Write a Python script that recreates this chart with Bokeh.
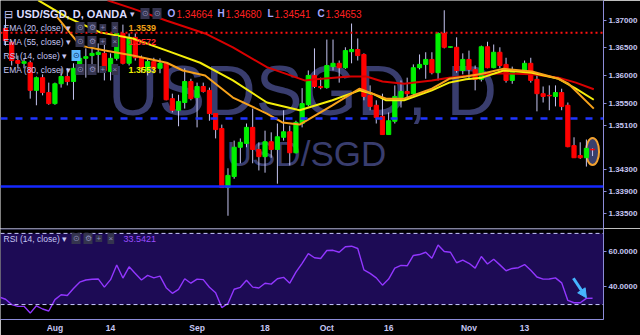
from bokeh.plotting import figure
from bokeh.models import (Range1d, FixedTicker, Label, Span, Arrow, NormalHead,
                          ColumnDataSource, BoxAnnotation, PrintfTickFormatter)
from bokeh.layouts import column
from bokeh.embed import file_html
from bokeh.resources import INLINE

# ---------------- data ----------------
days = list(range(0, 83)) + list(range(84, 96))

opens = [1.3685, 1.3660, 1.3627, 1.3622, 1.3623, 1.3573, 1.3596, 1.3569, 1.3549, 1.3585,
         1.3598, 1.3589, 1.3609, 1.3631, 1.3636, 1.3638, 1.3640, 1.3607, 1.3631, 1.3676,
         1.3622, 1.3669, 1.3632, 1.3609, 1.3625, 1.3613, 1.3622, 1.3558, 1.3537, 1.3551,
         1.3589, 1.3560, 1.3580, 1.3573, 1.3531, 1.3504, 1.3397, 1.3417, 1.3470, 1.3477,
         1.3506, 1.3466, 1.3453, 1.3480, 1.3466, 1.3488, 1.3498, 1.3460, 1.3513, 1.3547,
         1.3600, 1.3580, 1.3578, 1.3616, 1.3622, 1.3614, 1.3643, 1.3647, 1.3638, 1.3564,
         1.3546, 1.3526, 1.3493, 1.3517, 1.3560, 1.3571, 1.3567, 1.3614, 1.3620, 1.3629,
         1.3605, 1.3676, 1.3651, 1.3651, 1.3609, 1.3629, 1.3611, 1.3593, 1.3652, 1.3614,
         1.3642, 1.3620, 1.3591, 1.3609, 1.3622, 1.3593, 1.3567, 1.3564, 1.3562,
         1.3569, 1.3546, 1.3473, 1.3455, 1.3451, 1.34664]
highs = [1.3703, 1.3663, 1.3636, 1.3631, 1.3627, 1.3598, 1.3602, 1.3587, 1.3587, 1.3613,
         1.3613, 1.3622, 1.3636, 1.3649, 1.3649, 1.3658, 1.3658, 1.3640, 1.3690, 1.3692,
         1.3676, 1.3676, 1.3636, 1.3631, 1.3632, 1.3631, 1.3623, 1.3567, 1.3565, 1.3613,
         1.3594, 1.3587, 1.3587, 1.3578, 1.3531, 1.3511, 1.3432, 1.3482, 1.3486, 1.3513,
         1.3540, 1.3479, 1.3500, 1.3497, 1.3513, 1.3537, 1.3509, 1.3518, 1.3577, 1.3609,
         1.3649, 1.3596, 1.3665, 1.3665, 1.3627, 1.3651, 1.3694, 1.3667, 1.3640, 1.3582,
         1.3555, 1.3567, 1.3533, 1.3582, 1.3591, 1.3596, 1.3620, 1.3638, 1.3642, 1.3642,
         1.3678, 1.3718, 1.3652, 1.3669, 1.3640, 1.3645, 1.3618, 1.3654, 1.3661, 1.3656,
         1.3651, 1.3632, 1.3616, 1.3627, 1.3632, 1.3602, 1.3580, 1.3582, 1.3582,
         1.3576, 1.3551, 1.3488, 1.3479, 1.3484, 1.34680]
lows = [1.3654, 1.3618, 1.3613, 1.3613, 1.3558, 1.3546, 1.3564, 1.3547, 1.3547, 1.3578,
        1.3582, 1.3556, 1.3605, 1.3596, 1.3605, 1.3605, 1.3591, 1.3591, 1.3627, 1.3620,
        1.3618, 1.3627, 1.3605, 1.3600, 1.3604, 1.3604, 1.3555, 1.3533, 1.3508, 1.3540,
        1.3555, 1.3506, 1.3569, 1.3518, 1.3486, 1.3397, 1.3346, 1.3413, 1.3441, 1.3470,
        1.3441, 1.3428, 1.3424, 1.3451, 1.3404, 1.3482, 1.3437, 1.3459, 1.3506, 1.3544,
        1.3577, 1.3575, 1.3576, 1.3609, 1.3587, 1.3612, 1.3622, 1.3627, 1.3555, 1.3537,
        1.3513, 1.3493, 1.3493, 1.3513, 1.3542, 1.3560, 1.3565, 1.3611, 1.3594, 1.3602,
        1.3591, 1.3649, 1.3650, 1.3605, 1.3602, 1.3594, 1.3573, 1.3589, 1.3613, 1.3613,
        1.3613, 1.3587, 1.3585, 1.3604, 1.3587, 1.3535, 1.3551, 1.3537, 1.3544,
        1.3537, 1.3470, 1.3451, 1.3449, 1.3435, 1.34541]
closes = [1.3663, 1.3627, 1.3622, 1.3625, 1.3573, 1.3596, 1.3569, 1.3549, 1.3585, 1.3598,
          1.3589, 1.3613, 1.3631, 1.3634, 1.3640, 1.3642, 1.3609, 1.3631, 1.3676, 1.3622,
          1.3669, 1.3632, 1.3614, 1.3625, 1.3613, 1.3622, 1.3556, 1.3537, 1.3553, 1.3589,
          1.3558, 1.3580, 1.3571, 1.3531, 1.3502, 1.3397, 1.3419, 1.3470, 1.3479, 1.3506,
          1.3466, 1.3453, 1.3480, 1.3466, 1.3489, 1.3498, 1.3460, 1.3515, 1.3549, 1.3600,
          1.3580, 1.3578, 1.3618, 1.3622, 1.3614, 1.3645, 1.3647, 1.3636, 1.3562, 1.3544,
          1.3524, 1.3493, 1.3518, 1.3562, 1.3571, 1.3567, 1.3614, 1.3620, 1.3629, 1.3605,
          1.3676, 1.3651, 1.3652, 1.3609, 1.3629, 1.3611, 1.3593, 1.3652, 1.3614, 1.3642,
          1.3618, 1.3591, 1.3609, 1.3622, 1.3591, 1.3567, 1.3562, 1.3563, 1.3569,
          1.3544, 1.3471, 1.3451, 1.3451, 1.3468, 1.34653]

# EMA lines
ema20_x = [8.4, 12.1, 16.1, 20.6, 26.1, 28.7, 32.3, 36.8, 42.3, 44.8, 47.6, 52.9, 57.3, 59.4,
           61.6, 64.5, 69.0, 71.8, 74.5, 77.1, 80.6, 85.2, 89.5, 91.1, 95.2]
ema20 = [1.3705, 1.3654, 1.3645, 1.3636, 1.3623, 1.3609, 1.3600, 1.3560, 1.3531, 1.3515,
         1.3511, 1.3546, 1.3576, 1.3567, 1.3558, 1.3558, 1.3576, 1.3594, 1.3598, 1.3603,
         1.3612, 1.3607, 1.3594, 1.3585, 1.3540]
ema55_x = [16.5, 20.6, 26.1, 32.3, 36.8, 42.3, 48.4, 50.3, 55.6, 58.4, 61.0, 64.5, 69.0,
           71.8, 77.1, 80.6, 85.2, 89.5, 92.3, 95.2]
ema55 = [1.3736, 1.3721, 1.3699, 1.3676, 1.3651, 1.3615, 1.3591, 1.3593, 1.3598, 1.3598,
         1.3589, 1.3585, 1.3591, 1.3596, 1.3602, 1.3604, 1.3602, 1.3596, 1.3587, 1.3575]
ema80_x = [5.3, 10.0, 15.3, 20.6, 26.1, 31.5, 36.8, 42.3, 47.6, 52.9, 57.3, 59.4, 61.6, 64.5,
           69.0, 71.8, 74.5, 77.1, 80.6, 85.2, 89.5, 92.3, 95.2]
ema80 = [1.3736, 1.3705, 1.3678, 1.3667, 1.3645, 1.3623, 1.3591, 1.3551, 1.3537, 1.3555,
         1.3573, 1.3567, 1.3555, 1.3555, 1.3573, 1.3587, 1.3593, 1.3596, 1.3609, 1.3605,
         1.3594, 1.3576, 1.3556]
ema_legend_values = ["1.3539", "1.3572", "1.3553"]

rsi_day = list(range(-1, 96))
rsi = [34.2,
       33.0, 30.0, 29.0, 29.0, 25.2, 29.3, 27.5, 26.4, 32.8, 35.5,
       35.1, 39.0, 42.6, 43.8, 44.2, 44.4, 39.8, 44.0, 52.2, 44.9,
       51.2, 47.5, 43.8, 46.4, 45.0, 46.0, 39.5, 36.3, 38.5, 44.5,
       42.0, 44.3, 44.0, 39.7, 36.6, 28.3, 30.6, 38.6, 39.7, 43.7,
       39.8, 39.3, 42.0, 41.5, 44.5, 45.3, 42.0, 48.2, 53.2, 58.6,
       56.3, 55.9, 60.4, 60.5, 59.4, 62.5, 62.8, 61.5, 49.5, 47.5,
       45.0, 40.9, 44.3, 50.5, 52.0, 51.8, 57.6, 58.1, 59.4, 56.0,
       63.5, 59.8, 59.4, 53.5, 55.0, 53.2, 50.5, 57.0, 52.8, 55.5,
       52.3, 49.0, 50.3, 50.7, 52.5, 49.3, 45.5, 44.3, 44.4, 45.0,
       42.2, 32.3, 31.0, 31.0, 33.5, 33.54]
rsi_legend_value = "33.5421"

price_ticks = [1.370, 1.365, 1.360, 1.355, 1.351, 1.343, 1.339, 1.335]
rsi_ticks = [40, 60]
date_ticks = [8, 17, 31, 42, 52, 62, 75, 84]
date_labels = ["Aug", "14", "Sep", "18", "Oct", "16", "Nov", "13"]
level_red = 1.36772
level_blue_dash = 1.3522
level_blue = 1.3399

# ---------------- styling ----------------
LAV = "#c6c6f2"
AXC = "#8c8cd8"
FONT = "Liberation Sans"
FH = 228

p = figure(width=640, frame_height=FH, x_range=Range1d(-0.81, 96.77),
           y_range=Range1d(1.33229, 1.37357), x_axis_location=None,
           y_axis_location="right", toolbar_location=None, output_backend="svg",
           background_fill_color="black", border_fill_color="black",
           outline_line_color=None, min_border_left=0, min_border_right=0,
           min_border_top=0, min_border_bottom=0)
p.grid.visible = False
ya = p.yaxis[0]
ya.ticker = FixedTicker(ticks=price_ticks)
ya.formatter = PrintfTickFormatter(format="%.5f")
ya.axis_line_color = AXC
ya.major_tick_line_color = AXC
ya.major_tick_out = 3
ya.major_tick_in = 0
ya.minor_tick_line_color = None
ya.major_label_standoff = 2
ya.major_label_text_font = FONT
ya.major_label_text_font_style = "bold"
ya.major_label_text_font_size = "8px"
ya.major_label_text_color = LAV

# watermark
p.add_layout(Label(x=302, y=FH - 90, x_units="screen", y_units="screen", text="USDSGD, D",
                   text_align="center", text_baseline="middle", text_font=FONT,
                   text_font_size="70px", text_color="#393d6e", level="underlay"))
p.add_layout(Label(x=306, y=FH - 153, x_units="screen", y_units="screen", text="USD/SGD",
                   text_align="center", text_baseline="middle", text_font=FONT,
                   text_font_size="35px", text_color="#393d6e", level="underlay"))

# drawn levels
p.add_layout(Span(location=level_red, dimension="width", line_color="#ff1010",
                  line_dash="2 3", line_width=2))
p.add_layout(Span(location=level_blue_dash, dimension="width", line_color="#1f35ff",
                  line_dash="7 8", line_width=2.5))
p.add_layout(Span(location=level_blue, dimension="width", line_color="#1428ff",
                  line_width=2.5))

# highlight ellipse around the last candle
p.ellipse(x=[days[-1]], y=[closes[-1] - 0.0003], width=2.1, height=0.0049,
          fill_color="#3f4678", fill_alpha=0.9, line_color="#f0a030", line_width=2)

# candles
tops = [max(o, c) for o, c in zip(opens, closes)]
bots = [min(o, c) for o, c in zip(opens, closes)]
cols = ["#00f000" if c >= o else "#ff0000" for o, c in zip(opens, closes)]
src = ColumnDataSource(dict(day=days, high=highs, low=lows, top=tops, bottom=bots, color=cols))
p.segment(x0="day", y0="low", x1="day", y1="high", source=src, line_color="#c4c4f0", line_width=1)
p.vbar(x="day", top="top", bottom="bottom", width=0.68, source=src,
       fill_color="color", line_color="color", line_width=1)

# EMA lines
p.line(ema55_x, ema55, line_color="#d80000", line_width=2)
p.line(ema80_x, ema80, line_color="#f5ee0a", line_width=2)
p.line(ema20_x, ema20, line_color="#f7a21b", line_width=2)

# price label on the axis
p.add_layout(Label(x=607, y=closes[-1], x_units="screen", y_units="data",
                   text=f"{closes[-1]:.5f}", text_align="left", text_baseline="middle",
                   text_font=FONT, text_font_style="bold", text_font_size="8px",
                   text_color="white", background_fill_color="#ff1a1a",
                   padding=2))

# legend (top left)
def lab(fig, x, ytop, text, color=LAV, size="9px", style="normal", bg=None, fh=FH):
    fig.add_layout(Label(x=x, y=fh - ytop, x_units="screen", y_units="screen", text=text,
                         text_align="left", text_baseline="middle", text_font=FONT,
                         text_font_size=size, text_font_style=style, text_color=color,
                         background_fill_color=bg, padding=1, level="overlay"))

def buttons(fig, x0, ytop, glyphs, fh=FH):
    for k, g in enumerate(glyphs):
        lab(fig, x0 + 12 * k, ytop, g, color="#8a8ab8", size="8px", bg="#34344e", fh=fh)

lab(p, 2, 13, "\u229f", size="11px")
lab(p, 15, 13, "USD/SGD, D, OANDA", color="#dcdcff", size="11px", style="bold")
lab(p, 128, 13, "\u25be", size="9px")
buttons(p, 140, 13, ["\u2299", "\u2299"])
lab(p, 166, 13, "O", color="#a8a8ff", size="10px", style="bold")
lab(p, 175, 13, f"{opens[-1]:.5f}", color="#ff2020", size="10px")
lab(p, 216, 13, "H", color="#a8a8ff", size="10px", style="bold")
lab(p, 224, 13, f"{highs[-1]:.5f}", color="#ff2020", size="10px")
lab(p, 266, 13, "L", color="#a8a8ff", size="10px", style="bold")
lab(p, 273, 13, f"{lows[-1]:.5f}", color="#ff2020", size="10px")
lab(p, 316, 13, "C", color="#a8a8ff", size="10px", style="bold")
lab(p, 324, 13, f"{closes[-1]:.5f}", color="#ff2020", size="10px")

rows = [(27, "EMA (20, close)", ema_legend_values[0], "#f2a218"),
        (41, "EMA (55, close)", ema_legend_values[1], "#ff2a2a"),
        (69, "EMA (80, close)", ema_legend_values[2], "#f0f000")]
for yt, name, val, c in rows:
    lab(p, 2, yt, name + " \u25be", size="8.5px")
    buttons(p, 75, yt, ["\u2299", "\u2699", "+", "\u00d7"])
    lab(p, 127, yt, val, color=c, size="9px", style="bold")
lab(p, 2, 55, "RSI (14, close) \u25be", size="8.5px")
lab(p, 71, 55, "\u2299", color="#0a2a60", size="8px", bg="#5cb8ff")

# ---------------- RSI pane ----------------
r = figure(width=640, frame_height=91, x_range=p.x_range, y_range=Range1d(21.6, 72.75),
           y_axis_location="right", toolbar_location=None, output_backend="svg",
           background_fill_color="black", border_fill_color="black",
           outline_line_color=None, min_border_left=0, min_border_right=0,
           min_border_top=0, min_border_bottom=0)
r.grid.visible = False
r.add_layout(BoxAnnotation(bottom=30, top=70, fill_color="#1d0b55", fill_alpha=1,
                           line_color=None, level="underlay"))
r.add_layout(Span(location=70, dimension="width", line_color="#c8c8ff", line_dash="4 3", line_width=1))
r.add_layout(Span(location=30, dimension="width", line_color="#c8c8ff", line_dash="4 3", line_width=1))
r.add_layout(Span(location=72.55, dimension="width", line_color=AXC, line_width=1))
r.line(rsi_day, rsi, line_color="#9236ff", line_width=1.4)

ra = r.yaxis[0]
ra.ticker = FixedTicker(ticks=rsi_ticks)
ra.formatter = PrintfTickFormatter(format="%.4f")
ra.axis_line_color = AXC
ra.major_tick_line_color = AXC
ra.major_tick_out = 3
ra.major_tick_in = 0
ra.minor_tick_line_color = None
ra.major_label_standoff = 2
ra.major_label_text_font = FONT
ra.major_label_text_font_style = "bold"
ra.major_label_text_font_size = "8px"
ra.major_label_text_color = LAV

xa = r.xaxis[0]
xa.ticker = FixedTicker(ticks=date_ticks)
xa.major_label_overrides = {t: s for t, s in zip(date_ticks, date_labels)}
xa.axis_line_color = AXC
xa.major_tick_line_color = None
xa.minor_tick_line_color = None
xa.major_tick_out = 0
xa.major_label_standoff = 3
xa.major_label_text_font = FONT
xa.major_label_text_font_style = "bold"
xa.major_label_text_font_size = "8.5px"
xa.major_label_text_color = LAV

r.add_layout(Arrow(end=NormalHead(size=9, fill_color="#45b4ff", line_color="#45b4ff"),
                   x_start=rsi_day[-2] - 2.1, y_start=rsi[-2] + 11.3,
                   x_end=rsi_day[-2], y_end=rsi[-2] + 0.3,
                   line_color="#45b4ff", line_width=3))

RH = 91
lab(r, 2, 10, "RSI (14, close) \u25be", size="8.5px", fh=RH)
buttons(r, 71, 10, ["\u2299", "\u2699", "+", "\u00d7"], fh=RH)
lab(r, 122, 10, rsi_legend_value, color="#9a4dff", size="9px", fh=RH)

layout = column(p, r, spacing=0)
open("out.html", "w").write(file_html(layout, INLINE))
